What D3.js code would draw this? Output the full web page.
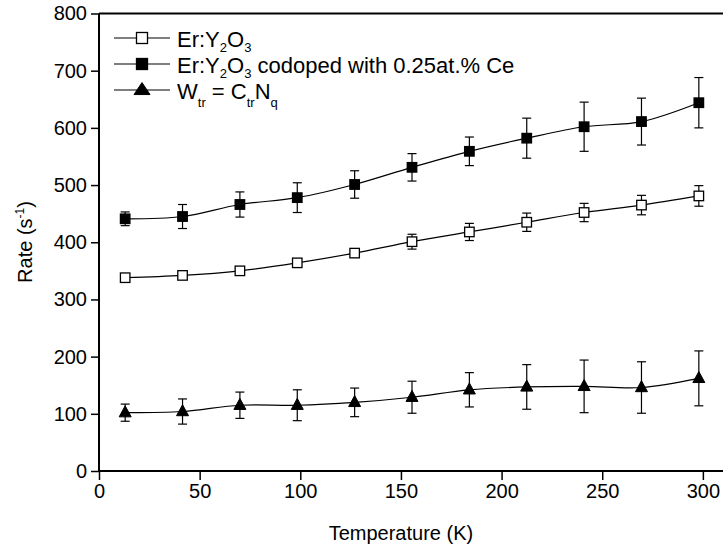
<!DOCTYPE html>
<html>
<head>
<meta charset="utf-8">
<script src="https://cdn.jsdelivr.net/npm/d3@7"></script>
<style>
  html, body { margin: 0; padding: 0; background: #fff; }
  svg { display: block; }
  text { font-family: "Liberation Sans", Arial, Helvetica, sans-serif; fill: #000; }
</style>
</head>
<body>
<svg id="chart" width="723" height="554"></svg>
<script>
// ---- data ----
const temperature = [13, 41.5, 70, 98.5, 127, 155.5, 184, 212.5, 241, 269.5, 298];
const erY2O3      = [338, 342, 350, 364, 381, 401, 418, 435, 452, 465, 481];
const erY2O3Err   = [4, 4, 5, 6, 7, 13, 15, 16, 16, 17, 18];
const erCe        = [441, 445, 466, 478, 501, 531, 559, 582, 602, 611, 644];
const erCeErr     = [12, 21, 22, 26, 24, 24, 25, 35, 43, 41, 44];
const wtr         = [102, 104, 115, 115, 120, 129, 142, 147, 148, 146, 162];
const wtrErr      = [15, 22, 23, 27, 25, 28, 30, 39, 46, 45, 48];
const xTicks = [0, 50, 100, 150, 200, 250, 300];
const yTicks = [0, 100, 200, 300, 400, 500, 600, 700, 800];

const svg = d3.select("#chart");
const m = { left: 99, right: 723, top: 13.5, bottom: 471 };
const x = d3.scaleLinear().domain([0, 310]).range([m.left, m.right]);
const y = d3.scaleLinear().domain([0, 800]).range([m.bottom, m.top]);

// frame top line
svg.append("line").attr("x1", m.left).attr("x2", 723).attr("y1", m.top).attr("y2", m.top)
  .attr("stroke", "#000").attr("stroke-width", 2);

// x axis
const xAxis = svg.append("g").attr("transform", `translate(0,${m.bottom})`);
xAxis.call(d3.axisBottom(x).tickValues(d3.range(0, 301, 25)).tickSize(5).tickFormat(""))
  .call(g => g.select(".domain").remove());
xAxis.call(d3.axisBottom(x).tickValues(xTicks).tickSize(9).tickPadding(4).tickFormat(d3.format("d")))
  .call(g => g.select(".domain").remove());
xAxis.selectAll("text").style("font-size", "20px").attr("dy", "0.72em");
xAxis.selectAll("line").attr("stroke-width", 1.5);
svg.append("line").attr("x1", m.left).attr("x2", 723).attr("y1", m.bottom).attr("y2", m.bottom)
  .attr("stroke", "#000").attr("stroke-width", 2);

// y axis
const yAxis = svg.append("g").attr("transform", `translate(${m.left},0)`);
yAxis.call(d3.axisLeft(y).tickValues(d3.range(0, 801, 50)).tickSize(5).tickFormat(""))
  .call(g => g.select(".domain").remove());
yAxis.call(d3.axisLeft(y).tickValues(yTicks).tickSize(8).tickPadding(4).tickFormat(d3.format("d")))
  .call(g => g.select(".domain").remove());
yAxis.selectAll("text").style("font-size", "20px");
yAxis.selectAll("line").attr("stroke-width", 1.5);
svg.append("line").attr("x1", m.left).attr("x2", m.left).attr("y1", m.top).attr("y2", m.bottom)
  .attr("stroke", "#000").attr("stroke-width", 2);

// axis titles
svg.append("text").attr("x", (x(0) + x(300)) / 2).attr("y", 540).attr("text-anchor", "middle")
  .style("font-size", "20px").text("Temperature (K)");
const yl = svg.append("text").attr("transform", `translate(32,242) rotate(-90)`)
  .attr("text-anchor", "middle").style("font-size", "20px");
yl.append("tspan").text("Rate (s");
yl.append("tspan").attr("dy", -8).style("font-size", "12px").text("-1");
yl.append("tspan").attr("dy", 8).text(")");

// series
const series = [
  { vals: erY2O3, err: erY2O3Err, shape: "square", fill: "#fff" },
  { vals: erCe, err: erCeErr, shape: "square", fill: "#000" },
  { vals: wtr, err: wtrErr, shape: "triangle", fill: "#000" }
];
const line = d3.line().x(d => x(d[0])).y(d => y(d[1])).curve(d3.curveCatmullRom.alpha(0.5));

function drawMarker(g, shape, fill, cx, cy, big) {
  if (shape === "square") {
    const s = big ? 11 : 9.5;
    g.append("rect").attr("x", cx - s / 2).attr("y", cy - s / 2).attr("width", s).attr("height", s)
      .attr("fill", fill).attr("stroke", "#000").attr("stroke-width", 1.3);
  } else {
    const w = big ? 16 : 12, h = big ? 12 : 11;
    g.append("path").attr("d", `M${cx},${cy - h * 0.62}L${cx + w / 2},${cy + h * 0.38}L${cx - w / 2},${cy + h * 0.38}Z`)
      .attr("fill", fill).attr("stroke", "#000").attr("stroke-width", 1);
  }
}

series.forEach(s => {
  const pts = temperature.map((t, i) => [t, s.vals[i], s.err[i]]);
  const g = svg.append("g");
  g.append("path").datum(pts).attr("d", line).attr("fill", "none").attr("stroke", "#000").attr("stroke-width", 1.2);
  pts.forEach(p => {
    const cx = x(p[0]);
    g.append("line").attr("x1", cx).attr("x2", cx).attr("y1", y(p[1] - p[2])).attr("y2", y(p[1] + p[2]))
      .attr("stroke", "#000").attr("stroke-width", 1.2);
    [p[1] - p[2], p[1] + p[2]].forEach(v => {
      g.append("line").attr("x1", cx - 4.5).attr("x2", cx + 4.5).attr("y1", y(v)).attr("y2", y(v))
        .attr("stroke", "#000").attr("stroke-width", 1.2);
    });
  });
  pts.forEach(p => drawMarker(g, s.shape, s.fill, x(p[0]), y(p[1]), false));
});

// legend
const legendRows = [
  { parts: [["Er:Y", 0], ["2", 1], ["O", 0], ["3", 1]], shape: "square", fill: "#fff", sub: 5 },
  { parts: [["Er:Y", 0], ["2", 1], ["O", 0], ["3", 1], [" codoped with 0.25at.% Ce", 0]], shape: "square", fill: "#000", sub: 5 },
  { parts: [["W", 0], ["tr", 1], [" = C", 0], ["tr", 1], ["N", 0], ["q", 1]], shape: "triangle", fill: "#000", sub: 8 }
];
const lg = svg.append("g");
legendRows.forEach((r, i) => {
  const base = 47 + i * 26;
  const cy = base - 9;
  lg.append("line").attr("x1", 114).attr("x2", 170).attr("y1", cy).attr("y2", cy)
    .attr("stroke", "#000").attr("stroke-width", 1.2);
  drawMarker(lg, r.shape, r.fill, 142, cy, true);
  const t = lg.append("text").attr("x", 177).attr("y", base).style("font-size", "22px");
  let shifted = 0;
  r.parts.forEach(([str, sub]) => {
    const ts = t.append("tspan").text(str);
    const target = sub ? r.sub : 0;
    if (target !== shifted) { ts.attr("dy", target - shifted); shifted = target; }
    if (sub) ts.style("font-size", "13px");
  });
});
</script>
</body>
</html>
